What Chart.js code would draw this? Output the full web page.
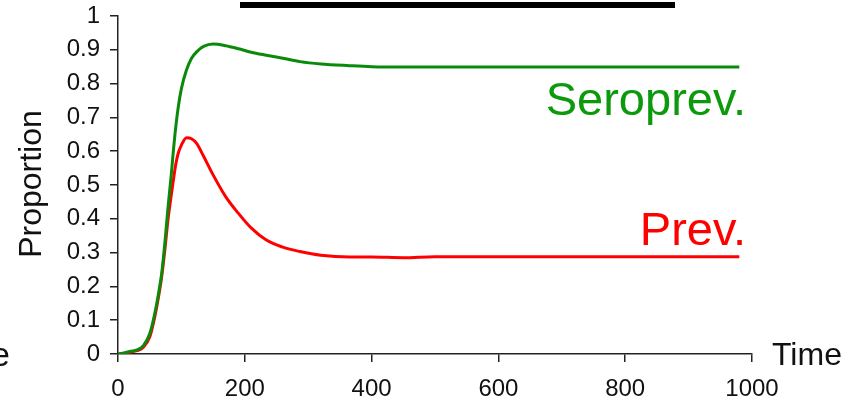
<!DOCTYPE html>
<html>
<head>
<meta charset="utf-8">
<script src="https://cdn.jsdelivr.net/npm/chart.js@4.4.1/dist/chart.umd.min.js"></script>
<style>
  html, body { margin: 0; padding: 0; background: #fff; }
  #wrap { width: 859px; height: 401px; position: relative; }
</style>
</head>
<body>
<div id="wrap"><canvas id="chart"></canvas></div>
<script>
// time points and the two proportions
const times = [0, 10, 20, 30, 40, 50, 58, 64, 69, 74, 79, 84, 87, 91, 95, 100, 108, 116, 124, 135,
  150, 170, 190, 210, 234, 260, 287, 320, 365, 400, 450, 500, 700, 980];
const seroprev = [0, 0.003, 0.008, 0.012, 0.025, 0.06, 0.12, 0.18, 0.24, 0.33, 0.436, 0.53, 0.594, 0.67, 0.73, 0.785, 0.84, 0.875, 0.894, 0.91,
  0.917, 0.912, 0.903, 0.893, 0.884, 0.875, 0.865, 0.858, 0.853, 0.85, 0.849, 0.849, 0.849, 0.849];
const prev = [0, 0.002, 0.006, 0.01, 0.02, 0.05, 0.11, 0.17, 0.23, 0.31, 0.40, 0.47, 0.51, 0.56, 0.594, 0.618, 0.64, 0.637, 0.623, 0.585,
  0.53, 0.465, 0.416, 0.373, 0.337, 0.316, 0.303, 0.292, 0.287, 0.287, 0.285, 0.288, 0.288, 0.288];
const xTicks = [0, 200, 400, 600, 800, 1000];
const yTicks = [0, 0.1, 0.2, 0.3, 0.4, 0.5, 0.6, 0.7, 0.8, 0.9, 1];

const GREEN = '#0a8a0a';
const RED = '#ff0000';
const AXIS = '#222';
const FONT = '"Liberation Sans", Arial, sans-serif';

const toPoints = vals => times.map((t, i) => ({ x: t, y: vals[i] }));

// labels drawn straight onto the canvas
const labelsPlugin = {
  id: 'labels',
  afterDraw(chart) {
    const ctx = chart.ctx;
    ctx.save();
    // cut-off title underline at the top
    ctx.fillStyle = '#000';
    ctx.fillRect(240, 2, 435, 6);

    ctx.textBaseline = 'alphabetic';
    ctx.font = '47px ' + FONT;
    ctx.textAlign = 'right';
    ctx.fillStyle = '#0c9a0c';
    ctx.fillText('Seroprev.', 746, 115);
    ctx.fillStyle = RED;
    ctx.fillText('Prev.', 746, 245);

    ctx.fillStyle = '#111';
    ctx.font = '32px ' + FONT;
    ctx.textAlign = 'left';
    ctx.fillText('Time', 772, 365);
    ctx.font = '34px ' + FONT;
    ctx.textAlign = 'right';
    ctx.fillText('e', 10, 366);

    ctx.translate(41, 184);
    ctx.rotate(-Math.PI / 2);
    ctx.textAlign = 'center';
    ctx.font = '32px ' + FONT;
    ctx.fillText('Proportion', 0, 0);
    ctx.restore();
  }
};

new Chart(document.getElementById('chart'), {
  type: 'line',
  data: {
    datasets: [
      { label: 'Seroprev.', data: toPoints(seroprev), borderColor: GREEN, borderWidth: 3,
        pointRadius: 0, cubicInterpolationMode: 'monotone', fill: false },
      { label: 'Prev.', data: toPoints(prev), borderColor: RED, borderWidth: 3,
        pointRadius: 0, cubicInterpolationMode: 'monotone', fill: false }
    ]
  },
  options: {
    responsive: true,
    maintainAspectRatio: false,
    animation: false,
    layout: { padding: { top: 16, right: 107, bottom: 0, left: 0 } },
    plugins: { legend: { display: false }, tooltip: { enabled: false } },
    scales: {
      x: {
        type: 'linear', min: 0, max: 1000,
        afterBuildTicks: s => { s.ticks = xTicks.map(v => ({ value: v })); },
        afterFit: s => { s.height = 47; s.paddingLeft = 0; s.paddingRight = 0; },
        grid: { drawOnChartArea: false, drawTicks: true, tickLength: 8, color: AXIS, lineWidth: 1.5 },
        border: { color: AXIS, width: 1.5 },
        ticks: { color: '#111', padding: 15, maxRotation: 0, font: { family: FONT, size: 24, lineHeight: 1 },
          callback: v => String(v) }
      },
      y: {
        min: 0, max: 1,
        afterBuildTicks: s => { s.ticks = yTicks.map(v => ({ value: v })); },
        afterFit: s => { s.width = 118; s.paddingTop = 0; s.paddingBottom = 0; },
        grid: { drawOnChartArea: false, drawTicks: true, tickLength: 8, color: AXIS, lineWidth: 1.5 },
        border: { color: AXIS, width: 1.5 },
        ticks: { color: '#111', padding: 10, font: { family: FONT, size: 24, lineHeight: 1 },
          callback: v => String(Math.round(v * 10) / 10) }
      }
    }
  },
  plugins: [labelsPlugin]
});
</script>
</body>
</html>
